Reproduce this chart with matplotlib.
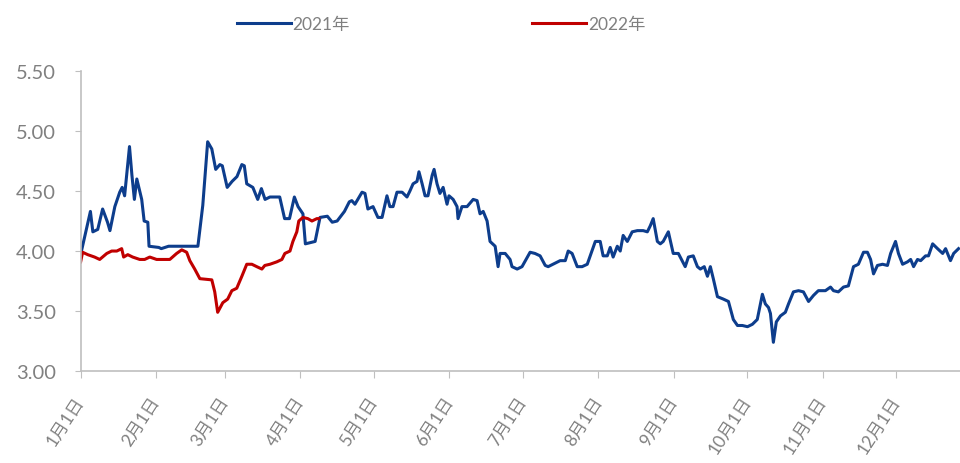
import numpy as np
import matplotlib
matplotlib.use("Agg")
import matplotlib.pyplot as plt

plt.rcParams['font.family'] = ['Lato', 'Noto Sans CJK SC', 'DejaVu Sans']

# day of year (0 = 1月1日) and price
days_2021 = [0, 4, 5, 7, 9, 11, 12, 14, 16, 17, 18, 20, 21, 22, 23, 25, 26, 27.5, 28, 32, 33, 36,
             48, 50, 52, 53.7, 55.3, 57, 58, 60, 62, 64, 66, 67, 68, 70.5, 72.5, 74, 75.5, 77.5,
             81.5, 83.5, 85.5, 87.5, 89, 91, 92, 96, 98, 101, 103, 105, 108, 110,
             111, 112.3, 115.2, 116.4, 117.6, 119.7, 121.7, 123.4, 125.4, 126.6, 127.9, 129.5,
             131.6, 133.6, 134.8, 136.1, 137.7, 138.5, 139.8, 141, 142.2, 143.9, 144.7, 145.9,
             147.1, 148.4, 150, 150.8, 152.5, 154.1, 154.5, 156.1, 158.2, 160.7, 162.3, 163.5,
             164.8, 166.4, 167.6, 169.7, 170.9, 171.7, 173.8, 175.8,
             176.6, 178.7, 180.7, 184, 186, 188.1, 190.2, 191.4, 193.4, 196.3, 198.4, 199.6,
             201.2, 203.3, 205.3, 207.4, 210.7, 212.7, 213.9, 215.6, 216.8, 218, 219.7, 220.9,
             222.1, 223.8, 225.8, 227.9, 230.3, 232, 233.2, 234.4, 236.1,
             237.3, 238.5, 240.6, 242.6, 244.7, 247.5, 248.8, 250.8, 252.5, 253.7, 255.3, 256.6,
             257.8, 259, 260.7, 263.1, 265.2, 267.2, 268.9, 270.9, 273, 275, 277, 279.1, 280.3,
             281.6, 282.4, 283.6, 284.8, 286.5, 288.5, 289.8, 291.8, 293.9, 295.9, 298, 300,
             302, 304.9, 307, 308.2, 310.2, 312.3, 314.3, 316.4, 318.4, 320.5, 322.1, 323.4,
             324.6, 326.2, 328.3, 330.3, 331.6, 333.6, 334.8, 336.5, 338.5, 339.8, 341, 342.6,
             343.9, 345.9, 347.1, 348.8, 350.8, 352.9, 354.1, 356.1, 357.4, 359.4]
price_2021 = [3.97, 4.33, 4.16, 4.18, 4.35, 4.24, 4.17, 4.37, 4.49, 4.53, 4.46, 4.87, 4.63, 4.43,
              4.60, 4.43, 4.25, 4.24, 4.04, 4.03, 4.02, 4.04,
              4.04, 4.38, 4.91, 4.85, 4.68, 4.72, 4.71, 4.53, 4.58, 4.62, 4.72, 4.71, 4.56, 4.53,
              4.43, 4.52, 4.43, 4.45, 4.45, 4.27, 4.27, 4.45, 4.37, 4.31, 4.06, 4.08, 4.28, 4.29,
              4.24, 4.25, 4.33, 4.41,
              4.42, 4.39, 4.49, 4.48, 4.35, 4.37, 4.28, 4.28, 4.46, 4.37, 4.37, 4.49,
              4.49, 4.45, 4.50, 4.56, 4.58, 4.66, 4.56, 4.46, 4.46, 4.63, 4.68, 4.56,
              4.48, 4.53, 4.39, 4.46, 4.43, 4.37, 4.27, 4.37, 4.37, 4.43, 4.42, 4.31,
              4.33, 4.25, 4.08, 4.04, 3.87, 3.98, 3.98, 3.93,
              3.87, 3.85, 3.87, 3.99, 3.98, 3.96, 3.88, 3.87, 3.89, 3.92, 3.92, 4.00,
              3.98, 3.87, 3.87, 3.89, 4.08, 4.08, 3.96, 3.96, 4.03, 3.95, 4.04, 4.00,
              4.13, 4.08, 4.16, 4.17, 4.17, 4.16, 4.21, 4.27, 4.08,
              4.06, 4.08, 4.16, 3.98, 3.98, 3.87, 3.95, 3.96, 3.87, 3.85, 3.87, 3.79,
              3.87, 3.77, 3.62, 3.60, 3.58, 3.43, 3.38, 3.38, 3.37, 3.39, 3.43, 3.64, 3.56,
              3.53, 3.48, 3.24, 3.41, 3.46, 3.49, 3.56, 3.66, 3.67, 3.66, 3.58, 3.63,
              3.67, 3.67, 3.70, 3.67, 3.66, 3.70, 3.71, 3.87, 3.89, 3.99, 3.99, 3.93,
              3.81, 3.88, 3.89, 3.88, 3.98, 4.08, 3.98, 3.89, 3.91, 3.93, 3.87, 3.93,
              3.92, 3.96, 3.96, 4.06, 4.02, 3.98, 4.02, 3.92, 3.98, 4.02]

days_2022 = [0, 0.8, 2.9, 5.7, 7.8, 10.7, 12.7, 14.8, 16.8, 17.6, 19.3, 21.3, 24.2, 26.2, 28.3,
             31.1, 33.6, 36.5, 39.3, 41.4, 43.4, 44.7, 46.7, 48.8, 53.7, 54.9, 56.1, 58.2, 60.2,
             61.9, 63.9, 66, 68, 70.1, 72.1, 74.2, 75.4, 77.5, 80.3, 82.4, 83.6, 85.7, 86.9,
             88.5, 89.3, 91, 93, 94.7, 96.7, 97.5]
price_2022 = [3.91, 3.99, 3.97, 3.95, 3.93, 3.98, 4.00, 4.00, 4.02, 3.95, 3.97, 3.95, 3.93, 3.93,
              3.95, 3.93, 3.93, 3.93, 3.98, 4.01, 3.99, 3.92, 3.85, 3.77, 3.76, 3.66, 3.49, 3.57,
              3.60, 3.67, 3.69, 3.79, 3.89, 3.89, 3.87, 3.85, 3.88, 3.89, 3.91, 3.93, 3.98, 4.00,
              4.08, 4.16, 4.25, 4.28, 4.27, 4.25, 4.27, 4.27]

month_starts = [0, 31, 59, 90, 120, 151, 181, 212, 243, 273, 304, 334]
month_labels = [f"{m}月1日" for m in range(1, 13)]
y_ticks = [3.00, 3.50, 4.00, 4.50, 5.00, 5.50]

text_color = '#808080'
axis_color = '#bfbfbf'

fig = plt.figure(figsize=(9.6, 4.64), dpi=100)
ax = fig.add_axes([0.084, 0.198, 0.916, 0.647])

ax.plot(days_2021, price_2021, color='#0d3d8c', lw=2.2, label='2021年')
ax.plot(days_2022, price_2022, color='#c00000', lw=2.2, label='2022年')

ax.set_xlim(0, 360)
ax.set_ylim(3.0, 5.5)
ax.set_yticks(y_ticks)
ax.set_yticklabels([f"{v:.2f}" for v in y_ticks])
ax.set_xticks(month_starts)
ax.set_xticklabels(month_labels, rotation=57, ha='right', va='center', rotation_mode='anchor')

for side in ['top', 'right']:
    ax.spines[side].set_visible(False)
for side in ['left', 'bottom']:
    ax.spines[side].set_color(axis_color)
    ax.spines[side].set_linewidth(1.2)

ax.tick_params(axis='y', colors=axis_color, labelcolor=text_color, labelsize=14.5, length=4, pad=14)
ax.tick_params(axis='x', colors=axis_color, labelcolor=text_color, labelsize=12.5, length=5, pad=14)

ax.legend(loc='center', bbox_to_anchor=(0.41, 1.155), ncol=2, frameon=False,
          fontsize=12.5, handlelength=3.1, handletextpad=0.1, columnspacing=10.5,
          labelcolor=text_color)

fig.savefig('out.png', dpi=100)
